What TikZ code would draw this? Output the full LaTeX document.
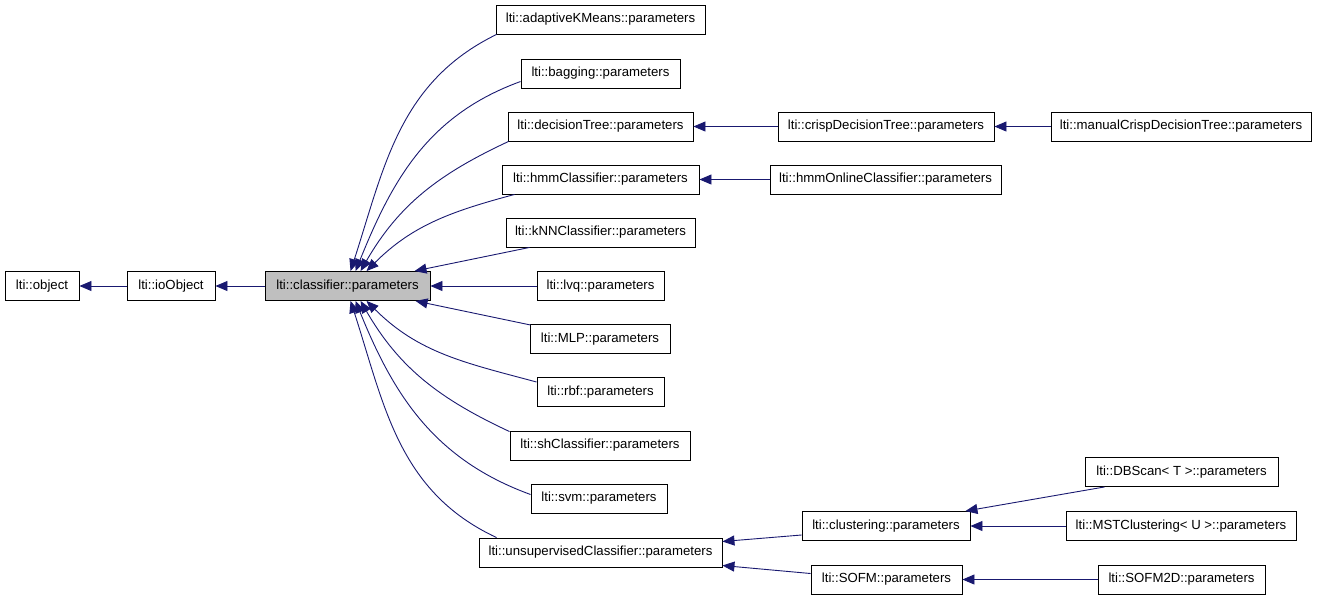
\documentclass[tikz,border=0pt]{standalone}
\usepackage{fontspec}
\setmainfont{Liberation Sans}
\usetikzlibrary{arrows.meta,calc}
\definecolor{edgecol}{RGB}{25,25,112}
\definecolor{hlgray}{RGB}{191,191,191}
\begin{document}
\begin{tikzpicture}[x=1pt,y=1pt,
  box/.style={draw=black, line width=0.9pt, minimum height=29pt, inner sep=0pt,
    font=\fontsize{13.2pt}{15pt}\selectfont, fill=white},
  arr/.style={draw=edgecol, line width=0.9pt, -{Triangle[length=12pt,width=10pt]}}]
\useasboundingbox (0,0) rectangle (1317,-600);
% nodes
\node[box, minimum width=74pt]  (obj) at (42,-286)   {lti::object};
\node[box, minimum width=88pt]  (io)  at (171,-286)  {lti::ioObject};
\node[box, minimum width=165pt, fill=hlgray] (cls) at (347.5,-286) {lti::classifier::parameters};
\node[box, minimum width=209pt] (akm) at (600.5,-19.5) {lti::adaptiveKMeans::parameters};
\node[box, minimum width=159pt] (bag) at (600.5,-73.5) {lti::bagging::parameters};
\node[box, minimum width=185pt] (dt)  at (600.5,-126.5) {lti::decisionTree::parameters};
\node[box, minimum width=197pt] (hmm) at (600.5,-179.5) {lti::hmmClassifier::parameters};
\node[box, minimum width=189pt] (knn) at (600.5,-232.5) {lti::kNNClassifier::parameters};
\node[box, minimum width=127pt] (lvq) at (600.5,-286) {lti::lvq::parameters};
\node[box, minimum width=140pt] (mlp) at (600,-339) {lti::MLP::parameters};
\node[box, minimum width=127pt] (rbf) at (600.5,-392) {lti::rbf::parameters};
\node[box, minimum width=180pt] (sh)  at (600,-445.5) {lti::shClassifier::parameters};
\node[box, minimum width=136pt] (svm) at (599,-498.5) {lti::svm::parameters};
\node[box, minimum width=243pt] (uns) at (600.5,-552.5) {lti::unsupervisedClassifier::parameters};
\node[box, minimum width=216pt] (crisp) at (886,-126.5) {lti::crispDecisionTree::parameters};
\node[box, minimum width=260pt] (man) at (1181,-126.5) {lti::manualCrispDecisionTree::parameters};
\node[box, minimum width=231pt] (hmmo) at (885.5,-179.5) {lti::hmmOnlineClassifier::parameters};
\node[box, minimum width=168pt] (clu) at (886,-526) {lti::clustering::parameters};
\node[box, minimum width=151pt] (sofm) at (886.5,-579.5) {lti::SOFM::parameters};
\node[box, minimum width=193pt] (db) at (1181.5,-472) {lti::DBScan< T >::parameters};
\node[box, minimum width=230pt] (mst) at (1181,-526) {lti::MSTClustering< U >::parameters};
\node[box, minimum width=167pt] (sofmtd) at (1181.5,-579.5) {lti::SOFM2D::parameters};
% straight edges
\draw[arr] (io) -- (obj);
\draw[arr] (cls) -- (io);
\draw[arr] (lvq) -- (cls);
\draw[arr] ($(knn.south west)+(24,0)$) -- ($(cls.north west)+(150,0)$);
\draw[arr] ($(mlp.west)+(1,14)$) -- ($(cls.south west)+(151,0)$);
\draw[arr] (crisp) -- (dt);
\draw[arr] (man) -- (crisp);
\draw[arr] (hmmo) -- (hmm);
\draw[arr] ($(clu.west)+(0,-9)$) -- ($(uns.east)+(0,11)$);
\draw[arr] ($(sofm.west)+(0,6)$) -- ($(uns.east)+(0,-13)$);
\draw[arr] ($(db.south west)+(20,0)$) -- ($(clu.north east)+(-5,0)$);
\draw[arr] (mst) -- (clu);
\draw[arr] (sofmtd) -- (sofm);
% curved edges to classifier top
\draw[arr] ($(akm.south west)+(1,0)$) to[out=206,in=72] ($(cls.north west)+(86,0)$);
\draw[arr] ($(bag.west)+(0,-8)$) to[out=200,in=68] ($(cls.north west)+(91,0)$);
\draw[arr] ($(dt.south west)+(1,0)$) to[out=205,in=60] ($(cls.north west)+(96,0)$);
\draw[arr] ($(hmm.south west)+(13,0)$) to[out=195,in=45] ($(cls.north west)+(102,0)$);
% curved edges to classifier bottom
\draw[arr] ($(rbf.west)+(0,10)$) to[out=165,in=-45] ($(cls.south west)+(102,0)$);
\draw[arr] ($(sh.north west)+(0,-1)$) to[out=155,in=-60] ($(cls.south west)+(96,0)$);
\draw[arr] ($(svm.west)+(0,4)$) to[out=160,in=-68] ($(cls.south west)+(91,0)$);
\draw[arr] ($(uns.north west)+(18,0)$) to[out=155,in=-72] ($(cls.south west)+(86,0)$);
\end{tikzpicture}
\end{document}
